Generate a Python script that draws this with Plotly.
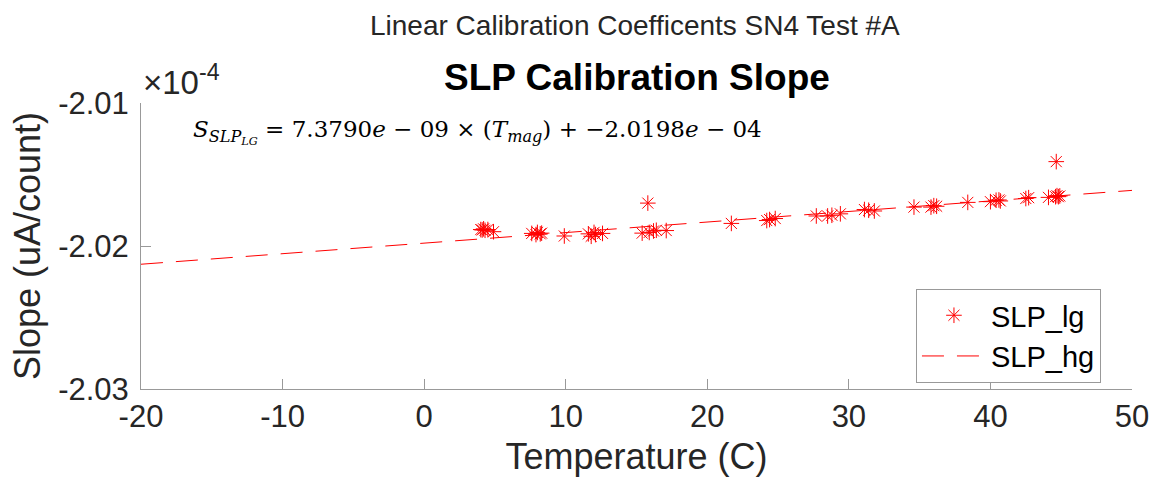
import plotly.graph_objects as go

# Data (slope values in units of 1e-4 uA/count)
temp_c = [4.0, 4.2, 4.3, 4.5, 4.1, 4.9, 7.6, 7.9, 8.0, 8.2, 8.3, 9.9, 11.6, 11.8, 12.0, 12.1, 12.6,
          15.4, 15.8, 15.9, 16.2, 16.4, 17.1, 21.7, 24.2, 24.4, 24.8, 27.7, 28.5, 28.8, 29.4,
          31.1, 31.4, 31.8, 34.6, 35.8, 36.0, 36.2, 38.4, 40.0, 40.4, 40.6, 40.7, 42.5, 42.7,
          44.1, 44.6, 44.7, 44.8, 44.9, 44.65]
slope_e4 = [-2.01885, -2.01880, -2.01890, -2.01885, -2.01888, -2.01900, -2.01912, -2.01920, -2.01905, -2.01915, -2.01910,
            -2.01930, -2.01915, -2.01932, -2.01905, -2.01920, -2.01912,
            -2.01910, -2.01700, -2.01905, -2.01895, -2.01890, -2.01892, -2.01842, -2.01822, -2.01815, -2.01808,
            -2.01790, -2.01790, -2.01785, -2.01775,
            -2.01745, -2.01750, -2.01755, -2.01728, -2.01728, -2.01718, -2.01722, -2.01695, -2.01690, -2.01680,
            -2.01678, -2.01685, -2.01668, -2.01662, -2.01660, -2.01655, -2.01648, -2.01655, -2.01650, -2.01410]

fit_slope = 7.3790e-09
fit_intercept = -2.0198e-04
fit_x_range = [-20, 50]

x_tickvals = [-20, -10, 0, 10, 20, 30, 40, 50]
x_ticktext = ["-20", "-10", "0", "10", "20", "30", "40", "50"]
y_tickvals = [-2.03, -2.02, -2.01]
y_ticktext = ["-2.03", "-2.02", "-2.01"]

fit_y = [(fit_slope * x + fit_intercept) * 1e4 for x in fit_x_range]

fig = go.Figure()
fig.add_trace(go.Scatter(
    x=temp_c, y=slope_e4, mode="markers", name="SLP_lg",
    marker=dict(symbol="asterisk-open", size=13, color="red", line=dict(color="red", width=1)),
))
fig.add_trace(go.Scatter(
    x=fit_x_range, y=fit_y, mode="lines", name="SLP_hg",
    line=dict(color="red", width=1, dash="22px,13px"),
))

axis_common = dict(
    showgrid=False, zeroline=False, showline=True, linecolor="#999999", linewidth=1,
    ticks="inside", ticklen=10, tickcolor="#999999", tickwidth=1, automargin=False,
    tickfont=dict(family="Liberation Sans, Arial", size=31, color="#262626"),
)

fig.update_xaxes(range=[-20, 50], tickvals=x_tickvals, ticktext=x_ticktext,
                 title=dict(text="Temperature (C)", font=dict(family="Liberation Sans, Arial", size=36, color="#262626"), standoff=10),
                 **axis_common)
fig.update_yaxes(range=[-2.03, -2.01], tickvals=y_tickvals, ticktext=y_ticktext,
                 ticklabelstandoff=5,
                 title=dict(text="Slope (uA/count)", font=dict(family="Liberation Sans, Arial", size=36, color="#262626"), standoff=6),
                 **axis_common)

fig.update_layout(
    width=1152, height=483,
    margin=dict(l=141, r=20, t=103, b=94),
    paper_bgcolor="white", plot_bgcolor="white",
    showlegend=True,
    legend=dict(x=0.782, y=0.35, xanchor="left", yanchor="top",
                bordercolor="#999999", borderwidth=1, bgcolor="white",
                font=dict(family="Liberation Sans, Arial", size=29, color="black"),
                itemwidth=64, tracegroupgap=0),
    annotations=[
        dict(text="Linear Calibration Coefficents SN4 Test #A", xref="paper", yref="paper",
             x=0.498, y=1, yshift=78, yanchor="middle", showarrow=False,
             font=dict(family="Liberation Sans, Arial", size=28, color="#262626")),
        dict(text="<b>SLP Calibration Slope</b>", xref="paper", yref="paper",
             x=0.5, y=1, yshift=26, yanchor="middle", showarrow=False,
             font=dict(family="Liberation Sans, Arial", size=37, color="black")),
        dict(text="×10<sup>-4</sup>", xref="paper", yref="paper", x=0, y=1, xanchor="left",
             yanchor="bottom", xshift=0, yshift=0, showarrow=False,
             font=dict(family="Liberation Sans, Arial", size=33, color="#262626")),
        dict(text="<i>S</i><sub><i>SLP</i><sub><i>LG</i></sub></sub> = 7.3790<i>e</i> − 09 × (<i>T</i><sub><i>mag</i></sub>) + −2.0198<i>e</i> − 04",
             xref="paper", yref="paper", x=0.05, y=0.9, xanchor="left", yanchor="middle",
             showarrow=False,
             font=dict(family="DejaVu Serif, Liberation Serif", size=23, color="black")),
    ],
)

fig.write_html("out.html", config={"displayModeBar": False},
               post_script="document.body.style.margin='0px';document.body.style.overflow='hidden';")
